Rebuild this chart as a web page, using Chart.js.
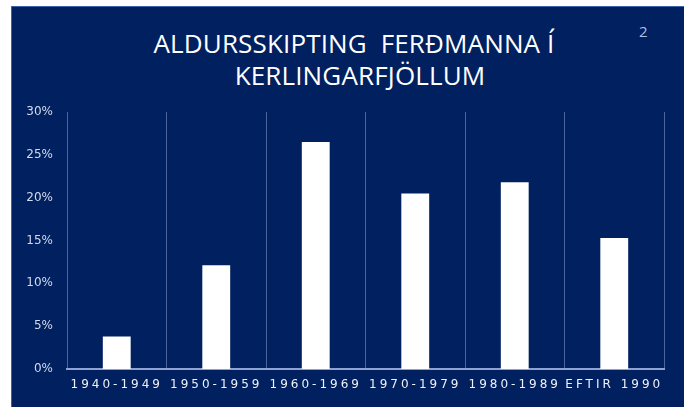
<!DOCTYPE html>
<html>
<head>
<meta charset="utf-8">
<script src="https://cdn.jsdelivr.net/npm/chart.js@4/dist/chart.umd.min.js"></script>
<style>
  html, body { margin: 0; padding: 0; background: #ffffff; }
  #wrap { position: relative; width: 684px; height: 407px; overflow: hidden; }
  #panel { position: absolute; left: 11px; top: 6px; width: 673px; height: 401px; background: #002060;
           border-left: 1px solid #3a63ad; border-top: 1px solid #3a63ad; box-sizing: border-box; }
  #title { position: absolute; left: 60px; width: 600px; top: 27px; text-align: center; color: #ffffff;
           font-family: 'Liberation Sans Narrow', 'Open Sans', sans-serif; font-size: 26px; line-height: 32px;
           letter-spacing: 0.15px; white-space: nowrap; }
  #title span { position: relative; }
  #pg { position: absolute; left: 639px; top: 21px; color: #a9c1ea; font-family: 'Open Sans', sans-serif; font-size: 15px; }
  canvas { position: absolute; left: 0; top: 0; }
</style>
</head>
<body>
<div id="wrap">
  <div id="panel"></div>
  <div id="title"><span style="left:-6px">ALDURSSKIPTING&nbsp; FERÐMANNA Í</span><br><span>KERLINGARFJÖLLUM</span></div>
  <div id="pg">2</div>
  <canvas id="c" width="684" height="407"></canvas>
</div>
<script>
const categories = ['1940-1949', '1950-1959', '1960-1969', '1970-1979', '1980-1989', 'EFTIR 1990'];
const shares = [0.038, 0.121, 0.265, 0.205, 0.218, 0.153];
const yTicks = [0, 0.05, 0.10, 0.15, 0.20, 0.25, 0.30];

const spacingPlugin = {
  id: 'xLetterSpacing',
  beforeDraw(chart) {
    const s = chart.scales.x;
    if (s && !s._patched) {
      const orig = s.drawLabels;
      s.drawLabels = function (area) {
        const ctx = this.ctx;
        ctx.save();
        ctx.letterSpacing = '3px';
        orig.call(this, area);
        ctx.restore();
      };
      s._patched = true;
    }
  }
};

new Chart(document.getElementById('c'), {
  type: 'bar',
  data: {
    labels: categories,
    datasets: [{
      data: shares,
      backgroundColor: '#ffffff',
      borderWidth: 0,
      barPercentage: 0.28,
      categoryPercentage: 1.0
    }]
  },
  plugins: [spacingPlugin],
  options: {
    responsive: false,
    animation: false,
    devicePixelRatio: 1,
    layout: { padding: { left: 0, right: 20, top: 112, bottom: 0 } },
    plugins: { legend: { display: false }, title: { display: false }, tooltip: { enabled: false } },
    scales: {
      x: {
        grid: { display: true, offset: true, color: 'rgba(150,170,215,0.5)', lineWidth: 1, drawTicks: false },
        border: { display: true, color: '#8ea3d3', width: 2 },
        ticks: { color: '#eef1f7', font: { family: 'DejaVu Sans', size: 12 }, padding: 9, maxRotation: 0, autoSkip: false },
        afterFit(s) { s.height = 38; }
      },
      y: {
        min: 0, max: 0.30,
        afterBuildTicks(s) { s.ticks = yTicks.map(v => ({ value: v })); },
        grid: { display: false, drawTicks: false },
        border: { display: false },
        ticks: {
          color: '#d3dbea', font: { family: 'DejaVu Sans', size: 12 }, padding: 14,
          callback: v => Math.round(v * 100) + '%'
        },
        afterFit(s) { s.width = 67; }
      }
    }
  }
});
</script>
</body>
</html>
